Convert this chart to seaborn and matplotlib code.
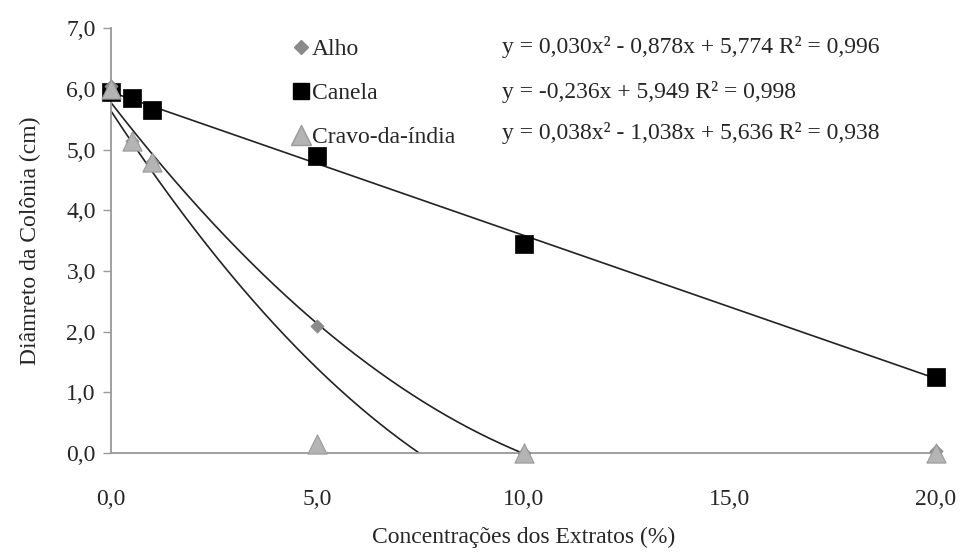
import numpy as np
import pandas as pd
import matplotlib
matplotlib.use("Agg")
import matplotlib.pyplot as plt
import seaborn as sns
from matplotlib.lines import Line2D

# concentrations (%) and colony diameters (cm)
conc = [0, 0.5, 1, 5, 10, 20]
alho = [6.05, 5.15, 4.8, 2.1, 0.0, 0.03]
canela = [5.95, 5.85, 5.65, 4.9, 3.45, 1.25]
cravo = [6.0, 5.15, 4.8, 0.15, 0.0, 0.0]

# trend line coefficients (c2, c1, c0) as given in the chart
coef_alho = [0.030, -0.878, 5.774]
coef_canela = [0.0, -0.236, 5.949]
coef_cravo = [0.038, -1.038, 5.636]

eq_labels = [
    "y = 0,030x² - 0,878x + 5,774 R² = 0,996",
    "y = -0,236x + 5,949 R² = 0,998",
    "y = 0,038x² - 1,038x + 5,636 R² = 0,938",
]
series_names = ["Alho", "Canela", "Cravo-da-índia"]

sns.set_theme(style="white")
plt.rcParams['font.family'] = ['Liberation Serif', 'DejaVu Serif']
FS = 17

fig, ax = plt.subplots(figsize=(9.63, 5.54), dpi=100)
fig.subplots_adjust(left=0.1153, right=0.972, top=0.949, bottom=0.182)


def trend(coef):
    xs = np.linspace(0, 20, 2001)
    ys = np.polyval(coef, xs)
    neg = np.where(ys < 0)[0]
    if len(neg):
        xs, ys = xs[:neg[0] + 1], ys[:neg[0] + 1]
        ys[-1] = 0
    return pd.DataFrame({"x": xs, "y": ys})


for coef in [coef_alho, coef_canela, coef_cravo]:
    t = trend(coef)
    sns.lineplot(data=t, x="x", y="y", ax=ax, color="#222222", lw=1.2,
                 sort=False, estimator=None)

sns.scatterplot(x=conc, y=canela, ax=ax, marker="s", s=170, color="black",
                edgecolor="black", linewidth=0.5, zorder=3, clip_on=False)
sns.scatterplot(x=conc, y=alho, ax=ax, marker="D", s=45, color="#8a8a8a",
                edgecolor="#8a8a8a", zorder=4, clip_on=False)
sns.scatterplot(x=conc, y=cravo, ax=ax, marker="^", s=190, color="#b4b4b4",
                edgecolor="#9a9a9a", linewidth=0.8, zorder=5, clip_on=False)

ax.set_xlim(0, 20)
ax.set_ylim(0, 7)
ax.set_xticks([0, 5, 10, 15, 20])
ax.set_xticklabels(["0,0", "5,0", "10,0", "15,0", "20,0"])
ax.set_yticks(range(8))
ax.set_yticklabels([f"{v},0" for v in range(8)])
ax.tick_params(axis="y", left=True, length=6, width=1, color="#999999",
               labelsize=FS, pad=5)
ax.tick_params(axis="x", bottom=False, labelsize=FS, pad=20)
for s in ["top", "right"]:
    ax.spines[s].set_visible(False)
for s in ["left", "bottom"]:
    ax.spines[s].set_color("#999999")
    ax.spines[s].set_linewidth(1.3)

ax.set_xlabel("Concentrações dos Extratos (%)", fontsize=FS, labelpad=12)
ax.set_ylabel("Diâmreto da Colônia (cm)", fontsize=FS, labelpad=18)

handles = [
    Line2D([], [], marker="D", ls="", color="#8a8a8a", markersize=7),
    Line2D([], [], marker="s", ls="", color="black", markersize=12),
    Line2D([], [], marker="^", ls="", color="#b4b4b4", markeredgecolor="#9a9a9a",
           markersize=14),
]
ax.legend(handles, series_names, loc="upper left", bbox_to_anchor=(0.209, 0.998),
          frameon=False, fontsize=FS, handlelength=0.7, handletextpad=0.1,
          labelspacing=0.95, borderaxespad=0)

for i, txt in enumerate(eq_labels):
    ax.text(0.474, [0.955, 0.849, 0.753][i], txt, transform=ax.transAxes,
            fontsize=FS, va="center", ha="left")

fig.savefig("out.png", dpi=100)
